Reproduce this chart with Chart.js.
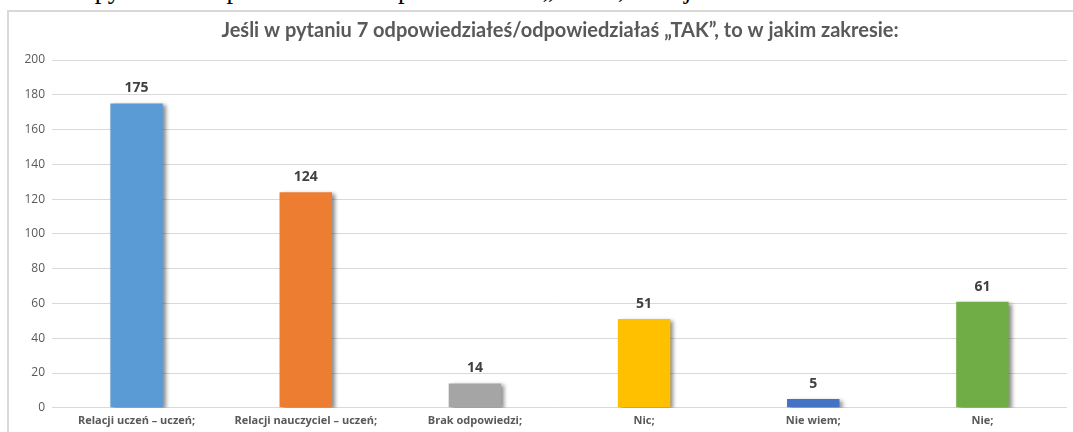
<!DOCTYPE html>
<html>
<head>
<meta charset="utf-8">
<script src="https://cdn.jsdelivr.net/npm/chart.js@4/dist/chart.umd.min.js"></script>
<style>
  html, body { margin: 0; padding: 0; background: #fff; }
  body { width: 1073px; height: 432px; overflow: hidden; position: relative; }
  #docline { position: absolute; left: 69px; top: -24px; font-family: "Liberation Serif", serif; font-size: 26.4px; line-height: 26px; white-space: nowrap; color: #000; }
  #box { position: absolute; left: 7px; top: 10px; width: 1200px; height: 500px; border-top: 2px solid #d9d9d9; border-left: 2px solid #d9d9d9; }
  #wrap { position: absolute; left: 9px; top: 12px; width: 1102px; height: 421px; }
</style>
</head>
<body>
<div id="docline">w pytaniu 7 odpowiedziałeś/odpowiedziałaś „TAK”, to w jakim zakresie:</div>
<div id="box"></div>
<div id="wrap"><canvas id="myChart"></canvas></div>
<script>
var categories = ["Relacji uczeń – uczeń;", "Relacji nauczyciel – uczeń;", "Brak odpowiedzi;", "Nic;", "Nie wiem;", "Nie;"];
var values = [175, 124, 14, 51, 5, 61];
var barColors = ['#5B9BD5', '#ED7D31', '#A5A5A5', '#FFC000', '#4472C4', '#70AD47'];
var yTicks = [0, 20, 40, 60, 80, 100, 120, 140, 160, 180, 200];
var chartTitle = 'Jeśli w pytaniu 7 odpowiedziałeś/odpowiedziałaś „TAK”, to w jakim zakresie:';

// shadow behind the bars, like in Excel
var barShadow = {
    id: 'barShadow',
    beforeDatasetsDraw: function (chart) {
        var c = chart.ctx;
        c.save();
        c.shadowColor = 'rgba(0,0,0,0.45)';
        c.shadowBlur = 4;
        c.shadowOffsetX = 3;
        c.shadowOffsetY = 2;
    },
    afterDatasetsDraw: function (chart) {
        chart.ctx.restore();
    }
};

// value above each bar
var valueLabels = {
    id: 'valueLabels',
    afterDatasetsDraw: function (chart) {
        var c = chart.ctx;
        var meta = chart.getDatasetMeta(0);
        c.save();
        c.font = 'bold 14px "Open Sans", sans-serif';
        c.fillStyle = '#404040';
        c.textAlign = 'center';
        c.textBaseline = 'middle';
        meta.data.forEach(function (bar, i) {
            c.fillText(values[i], bar.x, bar.y - 15);
        });
        c.restore();
    }
};

// title centred on the whole chart box, not only left of the padding
var titleSpan = {
    id: 'titleSpan',
    afterLayout: function (chart) {
        if (chart.titleBlock) {
            chart.titleBlock.left = 0;
            chart.titleBlock.right = chart.width;
        }
    }
};

var ctx = document.getElementById("myChart");
var myChart = new Chart(ctx, {
    type: 'bar',
    data: {
        labels: categories,
        datasets: [{
            data: values,
            backgroundColor: barColors,
            borderWidth: 0,
            categoryPercentage: 1,
            barPercentage: 0.31
        }]
    },
    options: {
        responsive: true,
        maintainAspectRatio: false,
        animation: false,
        layout: { padding: { right: 44, top: 0, bottom: 0 } },
        plugins: {
            legend: { display: false },
            tooltip: { enabled: false },
            title: {
                display: true,
                text: chartTitle,
                color: '#595959',
                font: { family: 'Lato, sans-serif', size: 20, weight: 'bold' },
                padding: { top: 7, bottom: 17 }
            }
        },
        scales: {
            x: {
                grid: { display: false, drawTicks: false },
                border: { display: false },
                ticks: {
                    color: '#595959',
                    font: { family: '"Open Sans", sans-serif', size: 11, weight: 'bold' },
                    padding: 6,
                    maxRotation: 0,
                    autoSkip: false
                }
            },
            y: {
                min: 0,
                max: 200,
                afterBuildTicks: function (scale) {
                    scale.ticks = yTicks.map(function (v) { return { value: v }; });
                },
                afterFit: function (scale) { scale.width = 43; },
                grid: { color: '#d9d9d9', lineWidth: 1, drawTicks: false },
                border: { display: false },
                ticks: {
                    color: '#595959',
                    font: { family: '"Open Sans", sans-serif', size: 12 },
                    padding: 7
                }
            }
        }
    },
    plugins: [barShadow, valueLabels, titleSpan]
});
</script>
</body>
</html>
